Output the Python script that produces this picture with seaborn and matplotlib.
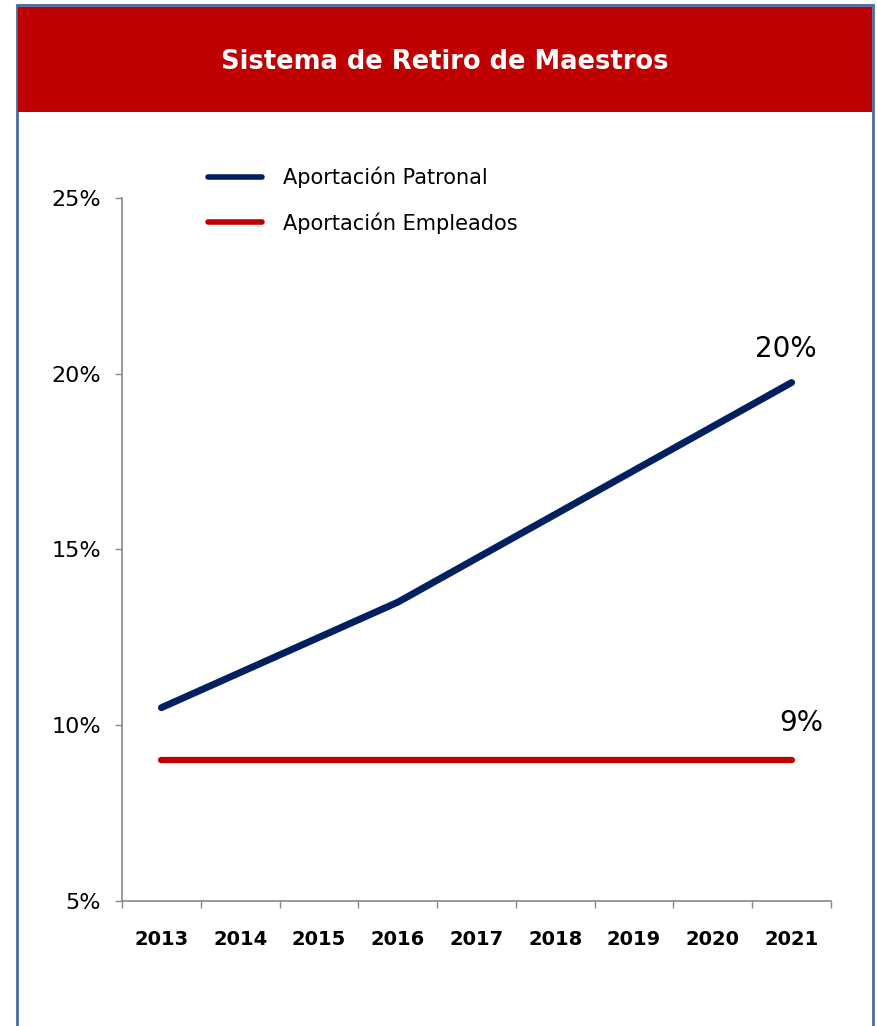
import pandas as pd
import seaborn as sns
import matplotlib.pyplot as plt
from matplotlib.patches import Rectangle
from matplotlib.ticker import FuncFormatter

# Data
years = [2013, 2014, 2015, 2016, 2017, 2018, 2019, 2020, 2021]
patronal = [10.5, 11.5, 12.5, 13.5, 14.75, 16.0, 17.25, 18.5, 19.75]
empleados = [9, 9, 9, 9, 9, 9, 9, 9, 9]
series_names = ["Aportación Patronal", "Aportación Empleados"]
end_labels = ["20%", "9%"]
title = "Sistema de Retiro de Maestros"

df = pd.DataFrame({
    "Año": years * 2,
    "Valor": patronal + empleados,
    "Serie": [series_names[0]] * len(years) + [series_names[1]] * len(years),
})

sns.set_style("white")
plt.rcParams["font.family"] = ["DejaVu Sans"]
plt.rcParams["text.color"] = "black"
plt.rcParams["xtick.labelcolor"] = "black"
plt.rcParams["ytick.labelcolor"] = "black"

W, H = 877, 1026
fig = plt.figure(figsize=(W / 100, H / 100), dpi=100)

# frame and red banner
fig.patches.append(Rectangle((17 / W, -0.01), 856 / W, 1 - 5 / H + 0.01, transform=fig.transFigure,
                             facecolor="white", edgecolor="#4A6A9A", linewidth=2, zorder=-2))
fig.patches.append(Rectangle((18 / W, 1 - 112 / H), 854 / W, 105 / H, transform=fig.transFigure,
                             facecolor="#C00000", edgecolor="none", zorder=-1))
fig.text(445 / W, 1 - 62 / H, title, color="white", fontsize=18.5, fontweight="bold",
         ha="center", va="center")

ax = fig.add_axes([122 / W, 1 - 901 / H, 709 / W, 703 / H])
ax.set_zorder(3)
ax.patch.set_alpha(0)
palette = {series_names[0]: "#002060", series_names[1]: "#C00000"}
sns.lineplot(data=df, x="Año", y="Valor", hue="Serie", palette=palette, ax=ax,
             linewidth=5, legend=False, solid_capstyle="round")
ax.lines[1].set_linewidth(4.5)

ax.set_xlim(2012.5, 2021.5)
ax.set_ylim(5, 25)
ax.set_yticks([5, 10, 15, 20, 25])
ax.yaxis.set_major_formatter(FuncFormatter(lambda v, p: f"{v:.0f}%"))
ax.set_xticks([y - 0.5 for y in years] + [2021.5])
ax.set_xticklabels([])
ax.set_xticks(years, minor=True)
ax.set_xticklabels([str(y) for y in years], minor=True, fontsize=14, fontweight="bold")
ax.tick_params(axis="x", which="major", bottom=True, direction="out", length=5, color="#888888", width=1)
ax.tick_params(axis="x", which="minor", bottom=True, length=0, pad=21)
ax.tick_params(axis="y", left=True, direction="out", length=5, color="#888888", width=1,
               labelsize=16, pad=10)
ax.set_xlabel("")
ax.set_ylabel("")
sns.despine(ax=ax)
for s in ["left", "bottom"]:
    ax.spines[s].set_color("#888888")
    ax.spines[s].set_linewidth(1.2)

# end labels
ax.annotate(end_labels[0], (years[-1], patronal[-1]), xytext=(-4, 14), textcoords="offset points",
            ha="center", va="bottom", fontsize=20)
ax.annotate(end_labels[1], (years[-1], empleados[-1]), xytext=(7, 17), textcoords="offset points",
            ha="center", va="bottom", fontsize=20)

# legend
handles = [plt.Line2D([], [], color=palette[n], linewidth=4) for n in series_names]
leg = fig.legend(handles, series_names, loc="upper left", bbox_to_anchor=(189 / W, 1 - 148 / H),
                 frameon=False, fontsize=15, handlelength=2.6, handletextpad=1.0, labelspacing=1.15)
leg.set_zorder(4)

fig.savefig("out.png", dpi=100)
